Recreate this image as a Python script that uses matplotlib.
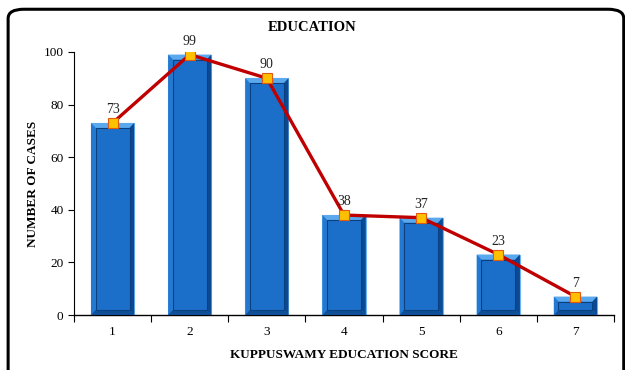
import matplotlib
matplotlib.use("Agg")
import matplotlib.pyplot as plt
from matplotlib.patches import Polygon, Rectangle, FancyBboxPatch

plt.rcParams['font.family'] = ['Liberation Serif', 'DejaVu Serif']

scores = [1, 2, 3, 4, 5, 6, 7]
cases = [73, 99, 90, 38, 37, 23, 7]
tick_labels = ['1', '2', '3', '4', '5', '6', '7']

fig = plt.figure(figsize=(6.25, 3.7), dpi=100)
ax = fig.add_axes([0.1184, 0.1486, 0.864, 0.711])

# rounded chart frame
frame = FancyBboxPatch((0.013, -0.05), 0.985, 1.025,
                       boxstyle="round,pad=0,rounding_size=0.025",
                       transform=fig.transFigure, fill=False,
                       edgecolor='black', linewidth=2.2, clip_on=False)
fig.patches.append(frame)

width = 0.56
bx = 0.06    # bevel width in x data units
by = 1.9     # bevel height in y data units

for x, v in zip(scores, cases):
    l, r = x - width / 2, x + width / 2
    b, t = 0, v
    # outer rim
    ax.add_patch(Rectangle((l, b), width, v, facecolor='#2f86dc',
                           edgecolor='#6db3f0', linewidth=0.8, zorder=2))
    ey = min(by, v / 3)
    # bevel faces
    ax.add_patch(Polygon([(l, t), (r, t), (r - bx, t - ey), (l + bx, t - ey)],
                         facecolor='#5aa8ee', edgecolor='none', zorder=3))
    ax.add_patch(Polygon([(l, b), (l, t), (l + bx, t - ey), (l + bx, b + ey)],
                         facecolor='#2379d2', edgecolor='none', zorder=3))
    ax.add_patch(Polygon([(r, b), (r, t), (r - bx, t - ey), (r - bx, b + ey)],
                         facecolor='#0b4a92', edgecolor='none', zorder=3))
    ax.add_patch(Polygon([(l, b), (r, b), (r - bx, b + ey), (l + bx, b + ey)],
                         facecolor='#0e4f98', edgecolor='none', zorder=3))
    # inner face
    ax.add_patch(Rectangle((l + bx, b + ey), width - 2 * bx, v - 2 * ey,
                           facecolor='#1c6fc8', edgecolor='#0a3f80',
                           linewidth=0.8, zorder=4))

ax.plot(scores, cases, color='#c00000', linewidth=2.4, zorder=5,
        marker='s', markersize=7, markerfacecolor='#ffc000',
        markeredgecolor='#e05a10', markeredgewidth=0.8)

for x, v in zip(scores, cases):
    ax.annotate(str(v), (x, v), xytext=(0, 5), textcoords='offset points',
                ha='center', va='bottom', fontsize=10, color='#222222', zorder=6)

ax.set_xlim(0.5, 7.5)
ax.set_ylim(0, 100)
ax.set_yticks(range(0, 101, 20))
ax.set_xticks(scores)
ax.set_xticklabels(tick_labels)
ax.set_xticks([s + 0.5 for s in [0] + scores], minor=True)
ax.tick_params(axis='x', which='major', length=0, pad=8, labelsize=9.5)
ax.tick_params(axis='x', which='minor', length=5, direction='out', width=0.8)
ax.tick_params(axis='y', length=4, direction='out', labelsize=9.5, width=0.8)

for s in ['top', 'right']:
    ax.spines[s].set_visible(False)
ax.spines['left'].set_linewidth(0.8)
ax.spines['bottom'].set_linewidth(1.0)

ax.set_ylabel('NUMBER OF CASES', fontsize=9.5, fontweight='bold', labelpad=3)
ax.set_xlabel('KUPPUSWAMY EDUCATION SCORE', fontsize=9.5, fontweight='bold', labelpad=8)
fig.text(0.5, 0.927, 'EDUCATION', ha='center', va='center',
         fontsize=10.5, fontweight='bold')

fig.savefig('out.png', dpi=100)
